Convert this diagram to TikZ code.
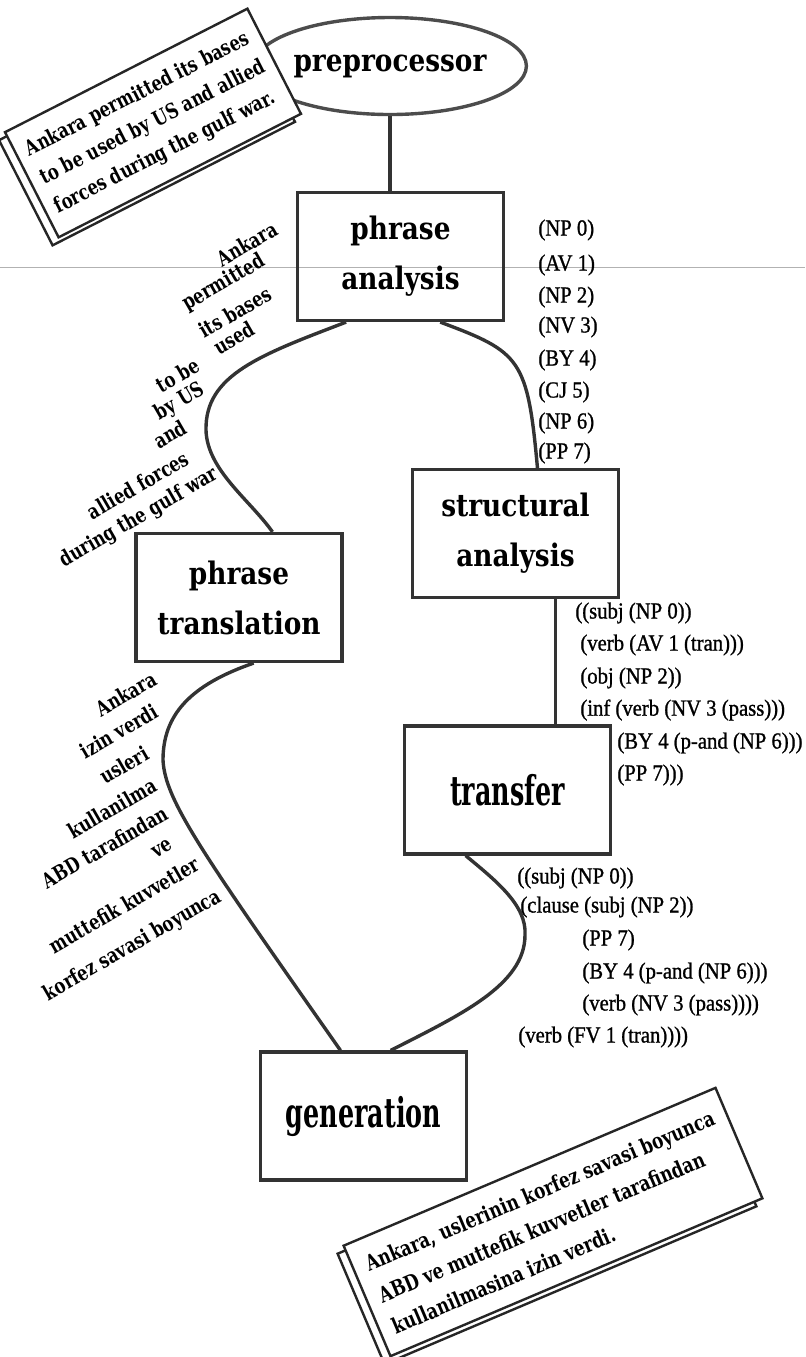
\documentclass[tikz,border=0pt]{standalone}
\usepackage{fontspec}
\setmainfont{Liberation Serif}
\newfontfamily\stagefont[FakeStretch=0.85]{DejaVu Serif}
\newfontfamily\narrowfont[FakeStretch=0.62]{DejaVu Serif}
\newfontfamily\wordfont[FakeStretch=0.78]{DejaVu Serif}
\newfontfamily\treefont[FakeStretch=0.9,FakeBold=1]{Liberation Serif}
\usetikzlibrary{shapes.geometric,shadows,calc}

\tikzset{
  stage/.style={draw=black!80, line width=1.6pt, minimum width=103pt, minimum height=64pt,
    inner sep=0pt, align=center, font=\stagefont\bfseries\fontsize{15.5}{25}\selectfont},
  link/.style={draw=black!80, line width=1.7pt},
  tree/.style={anchor=west, inner sep=0pt, font=\treefont\fontsize{11.5}{13}\selectfont},
  word/.style={rotate=30, inner sep=0pt, font=\wordfont\bfseries\fontsize{10.5}{12}\selectfont},
  note/.style={draw=black!85, line width=1.2pt, fill=white, align=left, inner sep=0pt,
    copy shadow={shadow xshift=-3pt, shadow yshift=-4pt}}
}

\begin{document}
\begin{tikzpicture}[x=0.5pt,y=-0.5pt]
\useasboundingbox (0,0) rectangle (805,1357);
\draw[gray!60, line width=0.4pt] (0,267) -- (805,267);

% stages
\node[ellipse, draw=black!70, line width=1.7pt, minimum width=117.5pt, minimum height=48.5pt,
  inner sep=0pt, font=\stagefont\bfseries\fontsize{15.5}{18}\selectfont] (pre) at (390,66) {preprocessor};
\node[stage] (pa) at (400.5,256.5) {phrase\\analysis};
\node[stage] (pt) at (239,597.5) {phrase\\translation};
\node[stage] (sa) at (515.5,533.5) {structural\\analysis};
\node[stage, font=\narrowfont\bfseries\fontsize{20.5}{24}\selectfont] (tr) at (507.5,790) {transfer};
\node[stage, font=\narrowfont\bfseries\fontsize{20.5}{24}\selectfont] (gen) at (363.5,1116) {generation};

% source and target sentences
\node[note, rotate=27, minimum width=136pt, minimum height=59pt,
  font=\wordfont\bfseries\fontsize{10.5}{16}\selectfont] (src) at (153,123)
  {Ankara permitted its bases\\to be used by US and allied\\forces during the gulf war.};
\node[note, rotate=23, minimum width=202pt, minimum height=60pt,
  font=\wordfont\bfseries\fontsize{10.8}{17}\selectfont] (tgt) at (553,1222)
  {Ankara, uslerinin korfez savasi boyunca\\ABD ve muttefik kuvvetler tarafindan\\kullanilmasina izin verdi.};

% connectors
\coordinate (bendL) at (206,430);
\coordinate (bendT) at (163,760);
\coordinate (bendR) at (525,935);
\draw[link] (pre.south) -- (pre.south |- pa.north);
\draw[link] ($(pa.south west)!.69!(pa.south east)$) .. controls +(80,30) and +(-10,-110) .. ($(sa.north west)!.605!(sa.north east)$);
\draw[link] ($(pa.south west)!.24!(pa.south east)$) .. controls (260,355) and (205,375) .. (bendL)
  .. controls (207,470) and (250,500) .. ($(pt.north west)!.66!(pt.north east)$);
\draw[link] ($(sa.south west)!.69!(sa.south east)$) coordinate (c3) -- (c3 |- tr.north);
\draw[link] ($(pt.south west)!.57!(pt.south east)$) .. controls (190,685) and (163,715) .. (bendT)
  .. controls (165,800) and (200,850) .. ($(gen.north west)!.39!(gen.north east)$);
\draw[link] ($(tr.south west)!.3!(tr.south east)$) .. controls (495,880) and (527,905) .. (bendR)
  .. controls (525,985) and (460,1015) .. ($(gen.north west)!.63!(gen.north east)$);

% phrases found
\node[tree] (pa1) at (538,230) {(NP 0)};
\node[tree] (pa2) at (538,265) {(AV 1)};
\node[tree] (pa3) at (538,297) {(NP 2)};
\node[tree] (pa4) at (538,327) {(NV 3)};
\node[tree] (pa5) at (538,360) {(BY 4)};
\node[tree] (pa6) at (538,392) {(CJ 5)};
\node[tree] (pa7) at (538,423) {(NP 6)};
\node[tree] (pa8) at (538,453) {(PP 7)};

% structure
\node[tree] (sa1) at (575,613) {((subj (NP 0))};
\node[tree] (sa2) at (580,645) {(verb (AV 1 (tran)))};
\node[tree] (sa3) at (580,678) {(obj (NP 2))};
\node[tree] (sa4) at (580,710) {(inf (verb (NV 3 (pass)))};
\node[tree] (sa5) at (617,743) {(BY 4 (p-and (NP 6)))};
\node[tree] (sa6) at (617,775) {(PP 7)))};

% transferred structure
\node[tree] (tg1) at (517,878) {((subj (NP 0))};
\node[tree] (tg2) at (520,907) {(clause (subj (NP 2))};
\node[tree] (tg3) at (582,940) {(PP 7)};
\node[tree] (tg4) at (582,973) {(BY 4 (p-and (NP 6)))};
\node[tree] (tg5) at (582,1005) {(verb (NV 3 (pass))))};
\node[tree] (tg6) at (518,1037) {(verb (FV 1 (tran))))};

% english phrases
\node[word] (en1) at (247,244) {Ankara};
\node[word] (en2) at (224,283) {permitted};
\node[word] (en3) at (235,312) {its bases};
\node[word] (en4) at (234,338) {used};
\node[word] (en5) at (178,375) {to be};
\node[word] (en6) at (180,402) {by US};
\node[word] (en7) at (170,434) {and};
\node[word] (en8) at (138,485) {allied forces};
\node[word] (en9) at (139,518) {during the gulf war};

% turkish phrases
\node[word] (tk1) at (126,694) {Ankara};
\node[word] (tk2) at (119,731) {izin verdi};
\node[word] (tk3) at (124,765) {usleri};
\node[word] (tk4) at (112,808) {kullanilma};
\node[word] (tk5) at (105,847) {ABD tarafindan};
\node[word] (tk6) at (162,849) {ve};
\node[word] (tk7) at (124,905) {muttefik kuvvetler};
\node[word] (tk8) at (133,946) {korfez savasi boyunca};
\end{tikzpicture}
\end{document}
